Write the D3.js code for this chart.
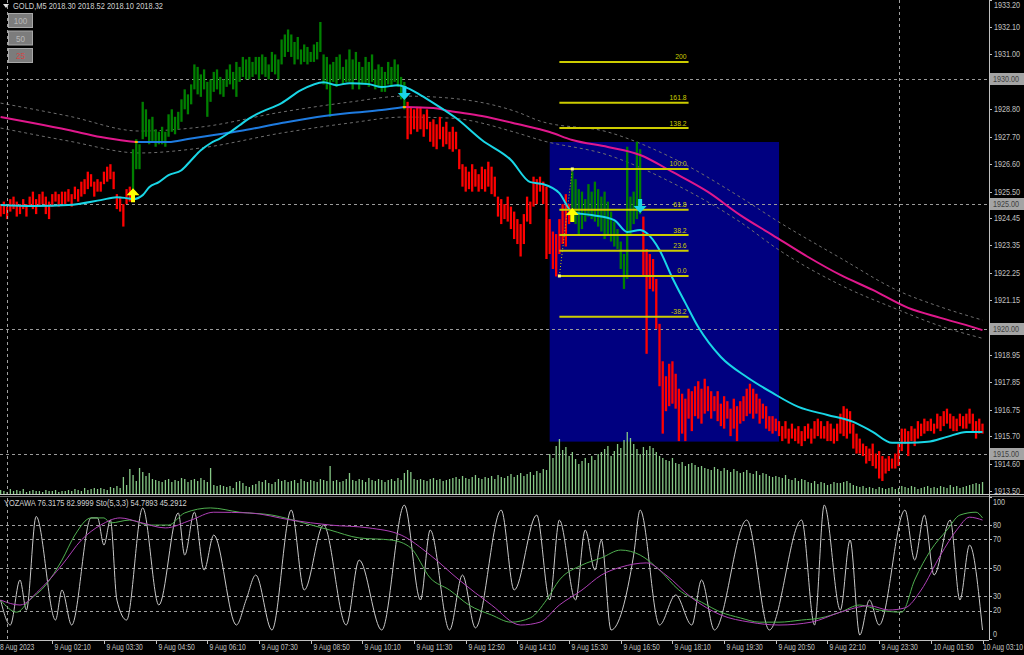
<!DOCTYPE html>
<html><head><meta charset="utf-8">
<script src="https://cdn.jsdelivr.net/npm/d3@7"></script>
<style>html,body{margin:0;padding:0;background:#000;overflow:hidden}text{font-family:"Liberation Sans",Arial,sans-serif}</style>
</head><body>
<svg id="c" width="1024" height="655"></svg>
<script>
// ---------------- DATA ----------------
const symbolHeader = "GOLD,M5  2018.30 2018.52 2018.10 2018.32";
const oscHeader = "YOZAWA 76.3175 82.9999   Sto(5,3,3) 54.7893 45.2912";
const scaleButtons = ["100", "50", "25"];

const barHigh = [
1925.0,1925.1,1924.9,1925.2,1925.3,1925.1,1925.0,1925.2,1925.0,1925.3,
1925.5,1925.2,1925.4,1925.5,1925.3,1925.1,1925.4,1925.5,1925.4,1925.5,
1925.5,1925.6,1925.4,1925.7,1925.6,1925.9,1926.0,1926.3,1926.2,1925.9,
1926.0,1925.9,1926.3,1926.5,1926.6,1926.3,1925.4,1925.3,1925.0,1925.6,
1925.7,1927.2,1927.6,1927.4,1929.1,1928.8,1928.4,1928.5,1928.0,1927.9,
1928.1,1927.9,1928.6,1928.8,1928.5,1928.7,1929.2,1929.6,1929.4,1929.8,
1930.6,1930.5,1930.2,1930.4,1929.9,1930.0,1930.3,1930.4,1930.1,1930.0,
1930.4,1930.6,1930.3,1930.7,1930.5,1930.9,1930.8,1930.9,1930.7,1930.9,
1930.9,1931.0,1930.9,1930.6,1931.1,1931.0,1930.8,1931.6,1931.8,1932.0,
1931.8,1931.5,1931.7,1931.2,1931.4,1931.3,1931.1,1931.4,1931.5,1932.3,
1931.0,1930.9,1930.6,1930.7,1930.9,1931.0,1930.5,1930.8,1931.2,1930.8,
1931.1,1930.7,1930.5,1930.9,1930.7,1931.0,1930.4,1930.6,1930.5,1930.3,
1930.7,1930.5,1930.8,1930.6,1930.1,1929.9,1929.1,1928.9,1928.8,1928.9,
1928.9,1928.6,1928.8,1928.3,1928.4,1928.2,1928.5,1928.1,1928.3,1927.9,
1928.1,1927.9,1927.2,1926.6,1926.5,1926.3,1926.6,1926.4,1926.2,1926.5,
1926.4,1926.7,1926.5,1926.1,1925.3,1925.2,1925.0,1925.3,1924.9,1924.7,
1924.4,1924.2,1924.6,1925.3,1925.1,1926.1,1926.0,1926.1,1925.9,1925.7,
1924.4,1923.9,1923.8,1924.4,1925.0,1925.4,1925.0,1926.3,1926.0,1925.6,
1925.5,1925.2,1925.8,1925.5,1925.9,1925.6,1925.3,1925.5,1925.1,1924.7,
1924.3,1924.0,1923.5,1923.0,1927.3,1925.3,1925.5,1927.5,1927.2,1924.5,
1923.2,1923.0,1922.8,1922.0,1920.2,1918.7,1918.1,1918.6,1918.7,1918.2,
1917.6,1917.4,1917.2,1917.6,1917.5,1917.7,1917.9,1917.6,1918.0,1917.7,
1917.5,1917.3,1917.5,1917.0,1917.3,1917.1,1916.8,1917.2,1916.9,1917.1,
1917.3,1917.6,1917.8,1917.6,1917.4,1917.2,1917.0,1916.9,1916.5,1916.5,
1916.4,1916.3,1916.1,1916.3,1916.0,1916.2,1916.0,1916.1,1915.9,1916.1,
1916.2,1916.0,1916.3,1916.4,1916.3,1916.1,1916.3,1916.2,1916.0,1916.2,
1916.6,1916.9,1916.8,1916.7,1916.2,1915.8,1915.6,1915.4,1915.3,1915.2,
1915.4,1915.0,1915.1,1914.9,1914.8,1914.9,1914.8,1915.0,1915.4,1916.0,
1916.0,1915.9,1916.1,1916.0,1916.3,1916.2,1916.4,1916.3,1916.4,1916.2,
1916.6,1916.5,1916.7,1916.8,1916.6,1916.5,1916.4,1916.6,1916.5,1916.6,
1916.8,1916.6,1916.3,1916.4,1916.2];

const barLow = [
1924.5,1924.6,1924.4,1924.7,1924.8,1924.5,1924.6,1924.8,1924.5,1924.9,
1924.8,1924.6,1924.9,1925.0,1924.6,1924.4,1924.9,1925.1,1924.9,1925.0,
1925.0,1925.1,1924.9,1925.2,1925.1,1925.3,1925.4,1925.6,1925.7,1925.3,
1925.5,1925.5,1925.8,1925.9,1926.0,1925.6,1924.8,1924.7,1924.1,1925.0,
1925.1,1925.6,1926.4,1926.4,1927.6,1927.7,1927.4,1927.5,1927.3,1927.4,
1927.4,1927.3,1927.7,1927.9,1927.8,1928.0,1928.3,1928.8,1928.6,1929.0,
1929.6,1929.4,1929.3,1929.6,1928.5,1929.1,1929.5,1929.6,1929.4,1929.3,
1929.7,1929.8,1929.6,1929.3,1929.9,1930.1,1930.0,1930.0,1930.1,1930.2,
1930.0,1930.2,1930.1,1930.0,1930.3,1930.2,1930.0,1930.6,1930.9,1931.1,
1930.9,1930.6,1930.8,1930.6,1930.7,1930.6,1930.7,1930.7,1930.8,1931.1,
1929.8,1929.6,1928.5,1929.9,1929.7,1930.0,1929.8,1929.9,1929.9,1929.6,
1930.0,1929.6,1929.8,1929.8,1929.7,1929.9,1929.6,1929.7,1929.5,1929.5,
1929.8,1929.7,1929.9,1929.7,1929.2,1928.8,1927.6,1927.8,1928.0,1927.9,
1928.0,1927.7,1928.0,1927.5,1927.3,1927.2,1927.6,1927.3,1927.4,1927.2,
1927.1,1927.2,1926.4,1925.7,1925.5,1925.6,1925.5,1925.7,1925.5,1925.6,
1925.5,1925.7,1925.4,1925.3,1924.5,1924.2,1924.4,1924.3,1924.0,1923.6,
1923.4,1922.9,1923.4,1924.3,1924.2,1924.9,1925.0,1925.5,1925.0,1922.8,
1923.0,1922.4,1922.1,1923.0,1923.4,1923.3,1924.2,1924.4,1924.2,1923.8,
1924.0,1924.3,1924.5,1924.4,1924.3,1924.1,1923.9,1923.6,1923.8,1923.5,
1923.3,1923.2,1922.4,1921.6,1922.0,1923.8,1924.2,1924.4,1924.6,1922.1,
1919.0,1921.6,1921.5,1920.0,1917.7,1915.8,1916.7,1916.9,1917.0,1916.8,
1915.5,1915.8,1915.5,1916.4,1915.9,1916.5,1916.4,1916.2,1916.6,1916.7,
1916.4,1916.7,1916.3,1916.1,1916.0,1916.4,1915.7,1916.0,1915.5,1916.2,
1916.3,1916.5,1916.6,1916.4,1916.6,1916.2,1916.4,1916.0,1915.9,1915.8,
1915.9,1915.7,1915.5,1915.6,1915.4,1915.6,1915.5,1915.4,1915.3,1915.5,
1915.6,1915.4,1915.6,1915.7,1915.6,1915.6,1915.5,1915.5,1915.4,1915.5,
1915.8,1915.7,1915.6,1915.8,1915.2,1915.0,1915.0,1914.9,1914.6,1914.7,
1914.5,1914.4,1914.0,1913.9,1914.2,1914.3,1914.4,1914.4,1914.5,1915.1,
1915.4,1914.9,1915.5,1915.3,1915.6,1915.7,1915.8,1915.9,1915.9,1915.8,
1916.0,1915.9,1916.1,1916.2,1916.0,1915.9,1915.9,1916.1,1916.0,1916.0,
1916.2,1915.9,1915.6,1915.8,1915.8];

const greenRanges = [[41,125],[177,198]];

const volume = [
40,30,20,50,30,40,30,50,20,30, 40,30,30,20,40,30,30,40,20,30,
30,40,30,50,40,30,60,40,50,60, 50,60,50,40,70,60,80,60,170,90,
250,190,130,260,220,180,210,150,140,130, 120,140,150,120,140,130,160,150,120,140,
150,130,160,140,120,260,90,80,90,80, 70,80,60,120,130,110,80,70,90,100,
130,120,140,110,100,120,150,130,140,120, 130,140,110,150,130,120,140,130,120,150,
140,130,280,130,140,120,130,150,210,140, 130,150,140,120,160,140,130,150,140,120,
140,150,130,160,140,210,240,220,150,140, 150,140,130,150,160,140,150,130,140,150,
160,170,150,180,160,150,170,190,160,150, 170,160,180,150,190,170,160,180,200,170,
190,210,180,200,220,190,230,210,250,240, 400,360,480,550,440,470,380,420,350,300,
330,360,310,380,340,400,420,450,480,380, 430,500,460,540,620,560,500,450,400,470,
440,480,460,420,380,360,340,330,360,310, 300,320,280,300,310,290,270,280,260,250,
240,270,250,230,260,240,220,250,230,210, 220,240,210,200,230,190,210,200,180,170,
180,170,160,190,150,140,160,130,150,140, 120,110,130,100,120,110,90,100,120,110,
110,120,130,110,90,80,70,80,60,70, 60,50,70,60,50,60,70,50,60,80,
70,60,80,70,50,60,70,80,60,70, 60,80,70,60,90,70,80,60,70,80,
90,100,110,100,120];

// [bar index, price]
const fastMA = [[0,1924.96],[10,1924.92],[21,1924.96],[31,1925.16],[36,1925.28],[39,1925.24],[41,1925.20],[44,1925.36],[46,1925.68],[49,1925.88],[52,1926.16],[56,1926.36],[59,1926.76],[62,1927.16],[65,1927.44],[68,1927.64],[71,1927.88],[74,1928.16],[77,1928.44],[80,1928.65],[87,1929.05],[93,1929.57],[100,1929.89],[104,1929.77],[108,1929.85],[114,1929.81],[118,1929.69],[123,1929.77],[126,1929.65],[130,1929.37],[135,1928.97],[141,1928.45],[149,1927.57],[158,1926.77],[164,1925.88],[168,1925.80],[173,1925.44],[177,1924.68],[183,1924.56],[190,1924.36],[194,1923.88],[198,1923.96],[200,1923.84],[204,1923.16],[208,1922.04],[212,1921.04],[216,1920.07],[223,1918.87],[231,1918.07],[239,1917.43],[247,1916.87],[256,1916.55],[264,1916.27],[270,1915.87],[276,1915.43],[281,1915.43],[287,1915.47],[293,1915.67],[299,1915.87],[304,1915.87]];
const slowMA = [[0,1928.49],[10,1928.25],[21,1927.97],[31,1927.69],[39,1927.53],[42,1927.49],[52,1927.49],[58,1927.61],[66,1927.77],[74,1927.93],[87,1928.25],[98,1928.49],[108,1928.65],[118,1928.77],[125,1928.89],[134,1928.85],[139,1928.73],[149,1928.53],[160,1928.21],[170,1927.89],[177,1927.57],[188,1927.29],[198,1926.97],[208,1926.29],[219,1925.49],[229,1924.56],[239,1923.76],[250,1922.88],[260,1922.16],[270,1921.56],[281,1920.84],[291,1920.44],[301,1920.07],[304,1919.95]];
const slowBlueRange = [42,125];
const envUpper = [[0,1929.05],[21,1928.53],[43,1927.93],[62,1928.09],[87,1928.69],[108,1929.09],[125,1929.33],[139,1929.25],[160,1928.69],[167,1928.33],[188,1927.89],[208,1926.85],[229,1925.28],[241,1924.28],[260,1922.84],[278,1921.52],[291,1920.88],[304,1920.35]];
const envLower = [[0,1928.05],[21,1927.53],[43,1927.05],[62,1927.25],[87,1927.85],[108,1928.25],[125,1928.49],[139,1928.45],[160,1927.85],[167,1927.57],[188,1926.97],[208,1925.85],[229,1924.28],[241,1923.16],[260,1921.76],[278,1920.76],[291,1920.11],[304,1919.62]];

const priceTicks = [1933.20,1932.10,1931.00,1929.90,1928.80,1927.70,1926.60,1925.50,1924.45,1923.35,1922.25,1921.15,1920.05,1918.95,1917.85,1916.75,1915.70,1914.60,1913.50];
const levelLines = [1930.00,1925.00,1920.00,1915.00];
const timeLabels = ["8 Aug 2023","9 Aug 02:10","9 Aug 03:30","9 Aug 04:50","9 Aug 06:10","9 Aug 07:30","9 Aug 08:50","9 Aug 10:10","9 Aug 11:30","9 Aug 12:50","9 Aug 14:10","9 Aug 15:30","9 Aug 16:50","9 Aug 18:10","9 Aug 19:30","9 Aug 20:50","9 Aug 22:10","9 Aug 23:30","10 Aug 01:50","10 Aug 03:10"];
const timeLabelIdx = [0,16,32,48,64,80,96,112,128,144,160,176,192,208,224,240,256,272,288,304];
const daySeparators = [2,278];

const oscWhite = [[0,27.5],[3,10],[6,41.5],[8,20.5],[11,86],[17,13.5],[19,34.5],[22,10],[28,85],[30,85],[32,66],[34,83.5],[36,27.5],[39,13.5],[44,92],[49,24],[55,88.5],[57,59],[60,89],[63,48.5],[66,73],[73,10],[76,27.5],[79,45],[84,6.5],[90,90.5],[94,34.5],[100,80],[107,10],[111,55.5],[118,6.5],[125,94],[130,27.5],[133,76.5],[139,6.5],[143,45],[147,8],[155,90.5],[159,34.5],[166,87],[170,27.5],[173,83.5],[178,27.5],[181,76.5],[184,48.5],[186,69.5],[189,6.5],[196,59],[198,90.5],[204,10],[209,31],[214,10],[217,41.5],[221,6.5],[231,83.5],[238,6.5],[248,83.5],[252,10],[255,94],[260,20.5],[263,69.5],[266,3],[269,27.5],[272,10],[280,90.5],[283,55.5],[286,87],[289,45],[294,83.5],[297,27.5],[300,66],[304,6.5]];
const oscGreen = [[0,27.5],[5,19],[9,27.5],[14,38],[19,55.5],[23,73],[28,85],[32,85],[34,81.5],[40,83.5],[46,80],[52,80],[57,88.5],[65,92],[74,89],[84,87],[93,82],[102,76.5],[111,71],[121,69.5],[127,64],[133,43],[139,34.5],[145,24],[152,17],[158,12],[164,15],[169,27.5],[173,41.5],[180,52],[186,57],[192,62.5],[198,59],[204,48.5],[210,34.5],[217,26],[223,19],[229,15],[235,12],[241,12],[248,13.5],[254,15],[260,19],[266,24],[272,20.5],[279,19],[283,41.5],[288,62.5],[293,76.5],[297,87],[302,89],[304,85]];
const oscViolet = [[0,27.5],[6,24],[12,34.5],[19,52],[25,69.5],[31,80],[37,85],[43,82],[51,78],[59,83.5],[66,89],[77,88.5],[90,83.5],[102,80],[114,78],[124,73],[133,59],[142,41.5],[152,24],[161,10],[167,12],[173,24],[180,34.5],[186,45],[192,50.5],[200,53.5],[206,45],[214,29],[223,17],[232,12],[241,10],[251,12],[260,19],[269,23.5],[275,20.5],[280,22],[285,34.5],[291,59],[296,76.5],[300,85.5],[304,83.5]];
const oscLevels = [80,70,50,30,20];
const oscTickLabels = [100,80,70,50,30,20,0];

const fibLevels = [200,161.8,138.2,100,61.8,38.2,23.6,0,-38.2];
const fibLabels = ["200","161.8","138.2","100.0","61.8","38.2","23.6","0.0","-38.2"];
const fibLow = [173,1922.12], fibHigh = [177,1926.41], fibEndIdx = 213;
const boxTime = [170,241], boxPrice = [1927.49,1915.48];
const upArrows = [[41,1925.36],[177,1924.56]];
const downArrows = [[125,1929.45],[198,1924.92]];

// ---------------- SCALES ----------------
const svg = d3.select("#c");
const PR = 989, MB = 494, OT = 497, OB = 640;
const x = d3.scaleLinear().domain([0,304]).range([0.6,982.5]);
const y = d3.scaleLinear().domain([1913.50,1932.10]).range([491,27]);
const vy = d3.scaleLinear().domain([0,1000]).range([MB,MB-100]);
const oy = d3.scaleLinear().domain([0,100]).range([639.3,496.5]);

svg.append("rect").attr("width",1024).attr("height",655).attr("fill","#000");
const defs = svg.append("defs");
defs.append("clipPath").attr("id","cm").append("rect").attr("x",0).attr("y",0).attr("width",PR).attr("height",MB);
defs.append("clipPath").attr("id","co").append("rect").attr("x",0).attr("y",OT).attr("width",PR).attr("height",OB-OT);

const main = svg.append("g").attr("clip-path","url(#cm)");
const osc = svg.append("g").attr("clip-path","url(#co)");

function txt(g, tx, ty, s, o={}) {
  return g.append("text").attr("transform",`translate(${tx},${ty}) scale(${o.sx||0.85},1)`)
    .attr("font-size",o.fs||8.5).attr("fill",o.fill||"#c0c0c0").attr("text-anchor",o.anchor||"start")
    .attr("dominant-baseline",o.db||"auto").text(s);
}

// blue rectangle
main.append("rect").attr("x",x(boxTime[0])).attr("y",y(boxPrice[0]))
  .attr("width",x(boxTime[1])-x(boxTime[0])).attr("height",y(boxPrice[1])-y(boxPrice[0])).attr("fill","#000080");

// horizontal level lines
main.selectAll(".lvl").data(levelLines).join("line")
  .attr("x1",0).attr("x2",PR).attr("y1",d=>Math.round(y(d))+0.5).attr("y2",d=>Math.round(y(d))+0.5)
  .attr("stroke","#9a9a9a").attr("stroke-dasharray","3,3");

// day separators
svg.selectAll(".sep").data(daySeparators).join("line")
  .attr("x1",d=>Math.round(x(d))+0.5).attr("x2",d=>Math.round(x(d))+0.5).attr("y1",0).attr("y2",OB)
  .attr("stroke","#a0a0a0").attr("stroke-dasharray","3,3");

// volume
main.selectAll(".vol").data(volume).join("rect")
  .attr("x",(d,i)=>x(i)-0.6).attr("width",1.3).attr("y",d=>vy(d)).attr("height",d=>MB-vy(d))
  .attr("fill","#86c886");

// envelopes
const lineP = d3.line().x(d=>x(d[0])).y(d=>y(d[1])).curve(d3.curveMonotoneX);
[envUpper, envLower].forEach(e=>main.append("path").attr("d",lineP(e)).attr("fill","none")
  .attr("stroke","#6e6e6e").attr("stroke-dasharray","3,3"));

// price bars
const isGreen = i => greenRanges.some(([a,b])=>i>=a&&i<=b);
main.selectAll(".bar").data(barHigh).join("rect")
  .attr("x",(d,i)=>x(i)-1.15).attr("width",2.3)
  .attr("y",(d,i)=>y(d)).attr("height",(d,i)=>Math.max(1,y(barLow[i])-y(d)))
  .attr("fill",(d,i)=>isGreen(i)?"#008000":"#ff0000");

// slow MA
const segs = [[0,slowBlueRange[0],"#e0188c"],[slowBlueRange[0],slowBlueRange[1],"#1e7be0"],[slowBlueRange[1],304,"#e0188c"]];
segs.forEach(([a,b,c])=>main.append("path").attr("d",lineP(slowMA.filter(d=>d[0]>=a&&d[0]<=b)))
  .attr("fill","none").attr("stroke",c).attr("stroke-width",2));
// fast MA
main.append("path").attr("d",lineP(fastMA)).attr("fill","none").attr("stroke","#19d6e6").attr("stroke-width",2);

// small switch markers
[slowBlueRange[0], slowBlueRange[1]].forEach(i=>{
  const p = slowMA.find(d=>d[0]===i)[1];
  main.append("rect").attr("x",x(i)-1.5).attr("y",y(p)-1).attr("width",3).attr("height",2).attr("fill","#ffb000");
});

// fibonacci
const fr = fibHigh[1]-fibLow[1];
fibLevels.forEach((lv,k)=>{
  const py = y(fibLow[1]+fr*lv/100);
  main.append("line").attr("x1",x(fibLow[0])).attr("x2",x(fibEndIdx)).attr("y1",py).attr("y2",py)
    .attr("stroke","#cccc00").attr("stroke-width",2);
  txt(main, x(fibEndIdx)-2, py-2.5, fibLabels[k], {fill:"#cccc00", anchor:"end", fs:8});
});
main.append("line").attr("x1",x(fibLow[0])).attr("y1",y(fibLow[1])).attr("x2",x(fibHigh[0])).attr("y2",y(fibHigh[1]))
  .attr("stroke","#cccc00").attr("stroke-dasharray","1,2");
[fibLow,fibHigh].forEach(d=>main.append("rect").attr("x",x(d[0])-1.5).attr("y",y(d[1])-1.5).attr("width",3).attr("height",3).attr("fill","#ffff80"));

// arrows
const upPath = "M0,-7L6.5,0L2,0L2,7L-2,7L-2,0L-6.5,0Z";
const dnPath = "M0,7L6.5,0L2,0L2,-7L-2,-7L-2,0L-6.5,0Z";
upArrows.forEach(d=>main.append("path").attr("d",upPath).attr("transform",`translate(${x(d[0])},${y(d[1])})`).attr("fill","#ffff00"));
downArrows.forEach(d=>main.append("path").attr("d",dnPath).attr("transform",`translate(${x(d[0])},${y(d[1])})`).attr("fill","#19d6e6"));

// ---------------- OSCILLATOR ----------------
osc.selectAll(".ol").data(oscLevels).join("line")
  .attr("x1",0).attr("x2",PR).attr("y1",d=>Math.round(oy(d))+0.5).attr("y2",d=>Math.round(oy(d))+0.5)
  .attr("stroke","#a0a0a0").attr("stroke-dasharray","3,3");
const lineO = d3.line().x(d=>x(d[0])).y(d=>oy(d[1])).curve(d3.curveMonotoneX);
osc.append("path").attr("d",lineO(oscWhite)).attr("fill","none").attr("stroke","#c8c8c8").attr("stroke-width",1);
osc.append("path").attr("d",lineO(oscGreen)).attr("fill","none").attr("stroke","#50b050").attr("stroke-width",1);
osc.append("path").attr("d",lineO(oscViolet)).attr("fill","none").attr("stroke","#b040b8").attr("stroke-width",1);

// ---------------- AXES / FRAME ----------------
svg.append("line").attr("x1",0).attr("x2",1024).attr("y1",494.5).attr("y2",494.5).attr("stroke","#c8c8c8");
svg.append("line").attr("x1",0).attr("x2",1024).attr("y1",496.5).attr("y2",496.5).attr("stroke","#707070");
svg.append("line").attr("x1",PR+0.5).attr("x2",PR+0.5).attr("y1",0).attr("y2",OB).attr("stroke","#c0c0c0");
svg.append("line").attr("x1",0).attr("x2",PR).attr("y1",OB+0.5).attr("y2",OB+0.5).attr("stroke","#c0c0c0");

// price axis (labels hidden under the level boxes are skipped, as the boxes cover them)
const pa = svg.append("g");
const coveredByBox = p => levelLines.some(l => Math.abs(y(l)-y(p)) < 9);
priceTicks.forEach(p=>{
  const py = Math.round(y(p))+0.5;
  pa.append("line").attr("x1",PR).attr("x2",PR+3).attr("y1",py).attr("y2",py).attr("stroke","#c0c0c0");
  if (!coveredByBox(p)) txt(pa, 994, Math.max(py, 5), p.toFixed(2), {db:"central"});
});
levelLines.forEach(p=>{
  const py = Math.round(y(p));
  pa.append("rect").attr("x",990).attr("y",py-6).attr("width",34).attr("height",12).attr("fill","#a4a4a4");
  txt(pa, 993, py+0.5, p.toFixed(2), {db:"central", fill:"#404040"});
});

// osc axis
oscTickLabels.forEach(v=>{
  const py = Math.min(634, Math.max(502, oy(v)));
  pa.append("line").attr("x1",PR).attr("x2",PR+3).attr("y1",Math.round(oy(v))+0.5).attr("y2",Math.round(oy(v))+0.5).attr("stroke","#c0c0c0");
  txt(pa, 993, py, String(v), {db:"central"});
});

// time axis
timeLabels.forEach((s,k)=>{
  const tx = Math.round(x(timeLabelIdx[k]))+0.5;
  if (k>0) svg.append("line").attr("x1",tx).attr("x2",tx).attr("y1",OB).attr("y2",OB+4).attr("stroke","#c0c0c0");
  const last = k === timeLabels.length-1;
  txt(svg, k===0 ? 0 : (last ? 1023 : tx+2), 650, s, {sx:0.8, anchor: last ? "end" : "start"});
});

// header
svg.append("path").attr("d","M3,4L9,4L6,8Z").attr("fill","#e0e0e0");
txt(svg, 13, 9, symbolHeader, {sx:0.88, fill:"#d0d0d0"});
scaleButtons.forEach((b,k)=>{
  const by = 13 + k*17.5;
  svg.append("rect").attr("x",8.5).attr("y",by+0.5).attr("width",24).attr("height",14).attr("fill","#7c7c7c").attr("stroke","#a8a8a8");
  txt(svg, 20.5, by+8, b, {anchor:"middle", db:"central", fs:9.5, fill: k===2?"#d04848":"#b8b8b8"});
});
txt(svg, 4, 506, oscHeader, {sx:0.88, fill:"#d0d0d0"});
</script>
</body></html>
